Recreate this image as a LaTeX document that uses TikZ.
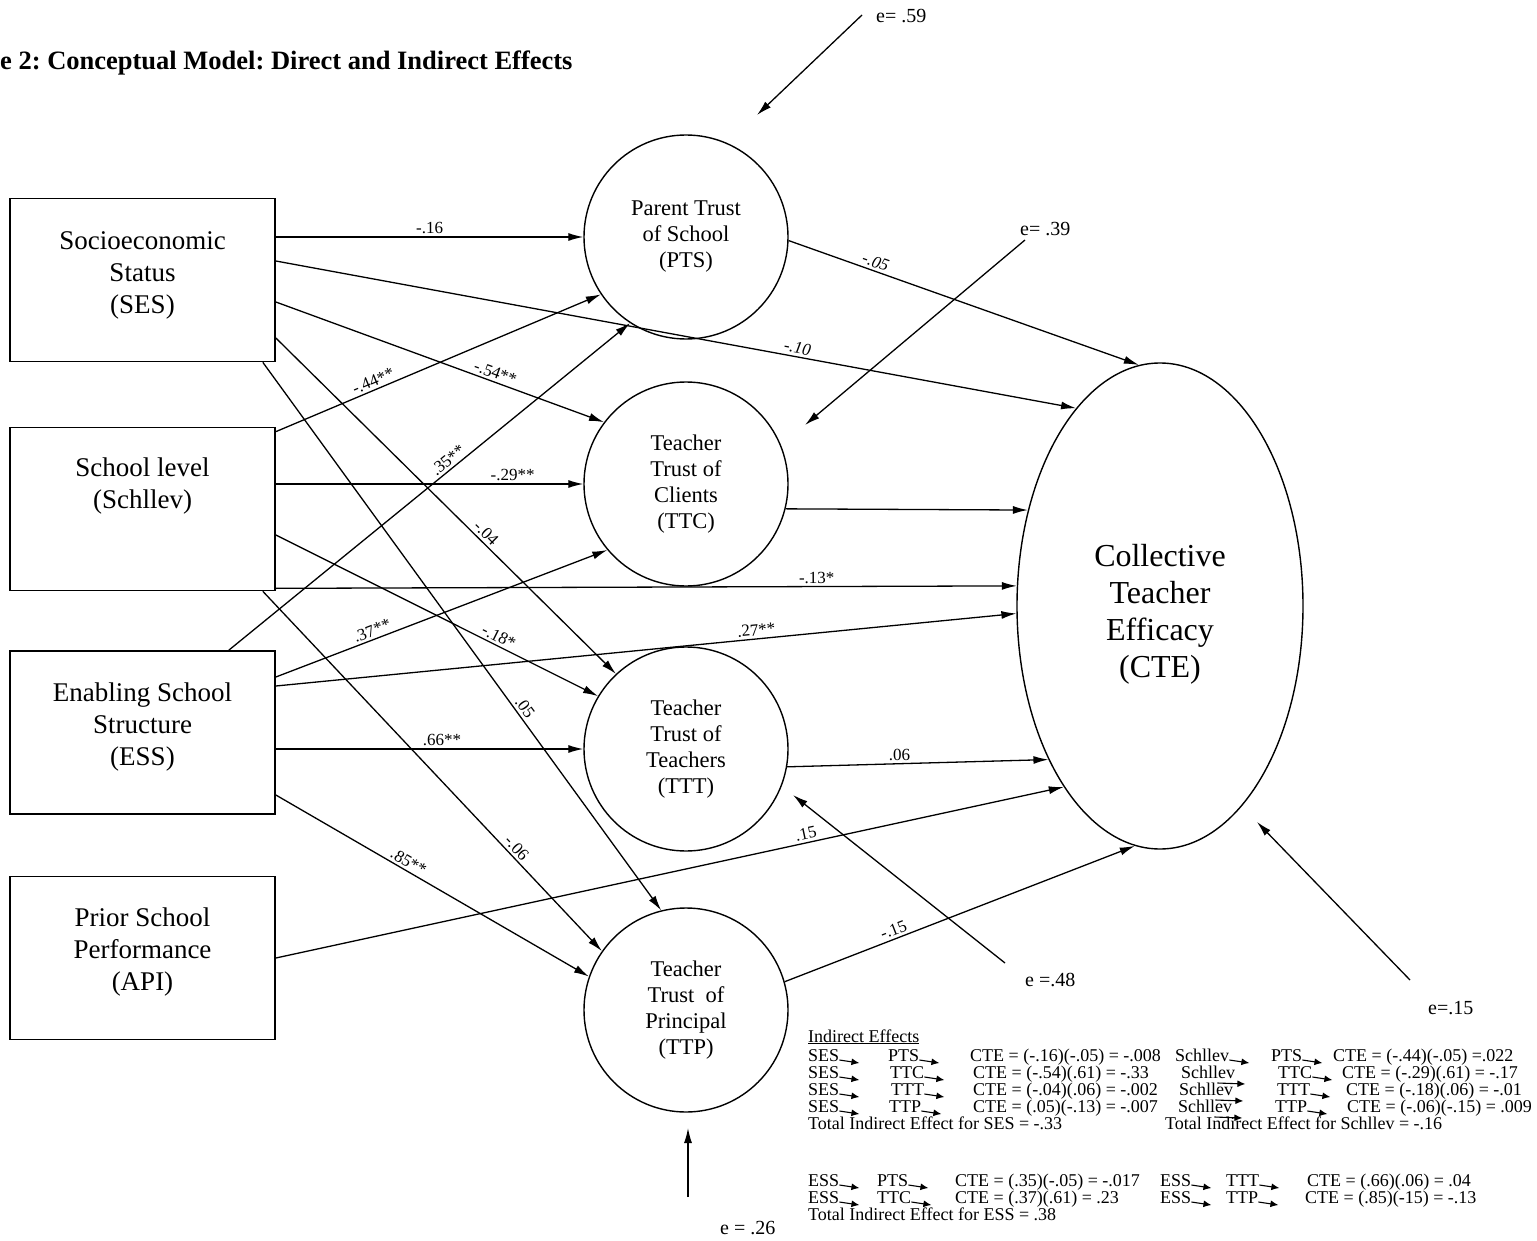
\documentclass[tikz,border=0pt]{standalone}
\usepackage{fontspec}
\setmainfont{Liberation Serif}
\usetikzlibrary{arrows.meta,calc,shapes.geometric}
\frenchspacing
\begin{document}
\begin{tikzpicture}[x=1pt,y=-1pt,
  box/.style={draw, line width=1.7pt, minimum width=265pt, minimum height=163pt, inner sep=0pt},
  boxtext/.style={align=center, font=\fontsize{27}{32}\selectfont, inner sep=0pt, anchor=north},
  lat/.style={draw, circle, line width=1.4pt, minimum size=204pt, inner sep=0pt, align=center, font=\fontsize{22.5}{26}\selectfont},
  arr/.style={line width=1.3pt, -{Latex[length=15pt,width=8pt]}},
  lab/.style={font=\fontsize{17}{20}\selectfont, inner sep=2.5pt},
  ilab/.style={font=\fontsize{17}{20}\selectfont\itshape, inner sep=2.5pt},
  elab/.style={font=\fontsize{20}{24}\selectfont, inner sep=0pt, anchor=west},
  tbl/.style={font=\fontsize{18}{20}\selectfont, inner sep=0pt, anchor=base west},
  sarr/.style={line width=1.1pt, -{Latex[length=8pt,width=7pt]}},
]
\useasboundingbox (0,0) rectangle (1537,1241);

% title
\node[font=\fontsize{26.5}{30}\selectfont\bfseries, anchor=base west, inner sep=0pt] (title) at (0,70) {e 2: Conceptual Model: Direct and Indirect Effects};

% exogenous boxes
\node[box] (SES) at (142.5,280) {};
\node[boxtext] (SEStxt) at ([yshift=-34pt]SES.north) {Socioeconomic\\Status\\(SES)};
\node[box] (Schllev) at (142.5,509) {};
\node[boxtext] (Schtxt) at ([yshift=-31pt]Schllev.north) {School level\\(Schllev)};
\node[box] (ESS) at (142.5,732.5) {};
\node[boxtext] (ESStxt) at ([yshift=-32pt]ESS.north) {Enabling School\\Structure\\(ESS)};
\node[box] (API) at (142.5,958) {};
\node[boxtext] (APItxt) at ([yshift=-32pt]API.north) {Prior School\\Performance\\(API)};

% mediators
\node[lat] (PTS) at (686,237) {Parent Trust\\of School\\(PTS)};
\node[lat] (TTC) at (686,484) {Teacher\\Trust of\\Clients\\(TTC)};
\node[lat] (TTT) at (686,749) {Teacher\\Trust of\\Teachers\\(TTT)};
\node[lat] (TTP) at (686,1010) {Teacher\\Trust\enspace of\\Principal\\(TTP)};

% outcome
\node[draw, ellipse, line width=1.4pt, minimum width=286pt, minimum height=486pt, inner sep=0pt] (CTE) at (1160,606) {};
\node[align=center, inner sep=0pt, font=\fontsize{32}{37}\selectfont] (CTEtxt) at ([yshift=-8pt]CTE.center) {Collective\\Teacher\\Efficacy\\(CTE)};

% paths from SES
\draw[arr] (SES.east |- PTS.west) -- node[lab,above,pos=0.5]{-.16} (PTS.west);
\draw[arr] ([yshift=19pt]SES.east) -- node[ilab,above,sloped,pos=0.65]{-.10} (CTE.113);
\draw[arr] ([yshift=-22pt]SES.east) -- node[lab,above,sloped,pos=0.66]{-.54**} (TTC.143);
\draw[arr] ([yshift=-58pt]SES.east) -- node[lab,above,sloped,pos=0.6]{-.04} (TTT.133);
\draw[arr] ([xshift=-13pt]SES.south east) -- node[lab,above,sloped,pos=0.64]{.05} (TTP.104);

% paths from Schllev
\draw[arr] ([yshift=-5pt]Schllev.north east) -- node[lab,above,sloped,pos=0.31]{-.44**} (PTS.214);
\draw[arr] (Schllev.east |- TTC.west) -- node[lab,above,pos=0.77]{-.29**} (TTC.west);
\draw[arr] ([yshift=-26pt]Schllev.east) -- node[lab,above,sloped,pos=0.68]{-.18*} (TTT.149);
\draw[arr] ([yshift=3pt]Schllev.south east) -- node[lab,above,sloped,pos=0.73]{-.13*} (CTE.172);
\draw[arr] ([xshift=-13pt]Schllev.south east) -- node[lab,above,sloped,pos=0.73]{-.06} (TTP.145);

% paths from ESS
\draw[arr] ([xshift=-47pt]ESS.north east) -- node[lab,above,sloped,pos=0.56]{.35**} (PTS.237);
\draw[arr] ([yshift=55.5pt]ESS.east) -- node[lab,above,sloped,pos=0.3]{.37**} (TTC.220);
\draw[arr] ([yshift=46.5pt]ESS.east) -- node[lab,above,sloped,pos=0.65]{.27**} (CTE.183);
\draw[arr] (ESS.east |- TTT.west) -- node[lab,above,pos=0.54]{.66**} (TTT.west);
\draw[arr] ([yshift=-62.5pt]ESS.east) -- node[lab,above,sloped,pos=0.41]{.85**} (TTP.161);

% path from API
\draw[arr] (API.east) -- node[lab,above,sloped,pos=0.675]{.15} (CTE.242);

% mediators to CTE
\draw[arr] (PTS.-2) -- node[ilab,above,sloped,pos=0.24]{-.05} (CTE.95);
\draw[arr] (TTC.-14) -- (CTE.144);
\draw[arr] (TTT.-10) -- node[lab,above,pos=0.43]{.06} (CTE.234);
\draw[arr] (TTP.16) -- node[lab,above,sloped,pos=0.32]{-.15} (CTE.264);

% error terms
\coordinate (e59s) at (862,15);  \coordinate (e59e) at (757,115);
\coordinate (e39s) at (1025,240); \coordinate (e39e) at (805,425);
\coordinate (e48s) at (1005,963); \coordinate (e48e) at (793,795);
\coordinate (e15s) at (1410,980); \coordinate (e15e) at (1257,822);
\coordinate (e26s) at (688,1197); \coordinate (e26e) at (688,1128);
\draw[arr] (e59s) -- (e59e);
\draw[arr] (e39s) -- (e39e);
\draw[arr] (e48s) -- (e48e);
\draw[arr] (e15s) -- (e15e);
\draw[arr] (e26s) -- (e26e);
\node[elab] (e59) at (876,16) {e= .59};
\node[elab] (e39) at (1020,229) {e= .39};
\node[elab] (e48) at (1025,980) {e =.48};
\node[elab] (e15) at (1428,1008) {e=.15};
\node[elab] (e26) at (720,1228) {e = .26};

% indirect effects table
\node[tbl] (ie) at (808,1042) {\underline{Indirect Effects}};
\node[tbl] (a1) at (808,1061) {SES};
\node[tbl] (b1) at (888,1061) {PTS};
\node[tbl] (c1) at (970,1061) {CTE = (-.16)(-.05) = -.008};
\node[tbl] (d1) at (1175,1061) {Schllev};
\node[tbl] (e1) at (1271,1061) {PTS};
\node[tbl] (f1) at (1333,1061) {CTE = (-.44)(-.05) =.022};
\node[tbl] (a2) at (808,1078) {SES};
\node[tbl] (b2) at (890,1078) {TTC};
\node[tbl] (c2) at (973,1078) {CTE = (-.54)(.61) = -.33};
\node[tbl] (d2) at (1181,1078) {Schllev};
\node[tbl] (e2) at (1278,1078) {TTC};
\node[tbl] (f2) at (1342,1078) {CTE = (-.29)(.61) = -.17};
\node[tbl] (a3) at (808,1095) {SES};
\node[tbl] (b3) at (891,1095) {TTT};
\node[tbl] (c3) at (973,1095) {CTE = (-.04)(.06) = -.002};
\node[tbl] (d3) at (1179,1095) {Schllev};
\node[tbl] (e3) at (1277,1095) {TTT};
\node[tbl] (f3) at (1346,1095) {CTE = (-.18)(.06) = -.01};
\node[tbl] (a4) at (808,1112) {SES};
\node[tbl] (b4) at (889,1112) {TTP};
\node[tbl] (c4) at (973,1112) {CTE = (.05)(-.13) = -.007};
\node[tbl] (d4) at (1178,1112) {Schllev};
\node[tbl] (e4) at (1275,1112) {TTP};
\node[tbl] (f4) at (1347,1112) {CTE = (-.06)(-.15) = .009};
\node[tbl] (t1) at (808,1129) {Total Indirect Effect for SES = -.33};
\node[tbl] (t2) at (1165,1129) {Total Indirect Effect for Schllev = -.16};
\node[tbl] (g1) at (808,1186) {ESS};
\node[tbl] (h1) at (877,1186) {PTS};
\node[tbl] (i1) at (955,1186) {CTE = (.35)(-.05) = -.017};
\node[tbl] (j1) at (1160,1186) {ESS};
\node[tbl] (k1) at (1226,1186) {TTT};
\node[tbl] (l1) at (1307,1186) {CTE = (.66)(.06) = .04};
\node[tbl] (g2) at (808,1203) {ESS};
\node[tbl] (h2) at (877,1203) {TTC};
\node[tbl] (i2) at (955,1203) {CTE = (.37)(.61) = .23};
\node[tbl] (j2) at (1160,1203) {ESS};
\node[tbl] (k2) at (1226,1203) {TTP};
\node[tbl] (l2) at (1305,1203) {CTE = (.85)(-15) = -.13};
\node[tbl] (t3) at (808,1220) {Total Indirect Effect for ESS = .38};

% small arrows in the table
\foreach \n in {a1,b1,d1,e1,a2,b2,e2,a3,b3,e3,a4,b4,e4,g1,h1,j1,k1,g2,h2,j2,k2}
  \draw[sarr] ([yshift=1pt]\n.base east) -- ++(20,3);
\foreach \n in {d2,d3,d4}
  \draw[sarr] ([xshift=-18pt,yshift=-5pt]\n.base east) -- ++(28,1);
\end{tikzpicture}
\end{document}
